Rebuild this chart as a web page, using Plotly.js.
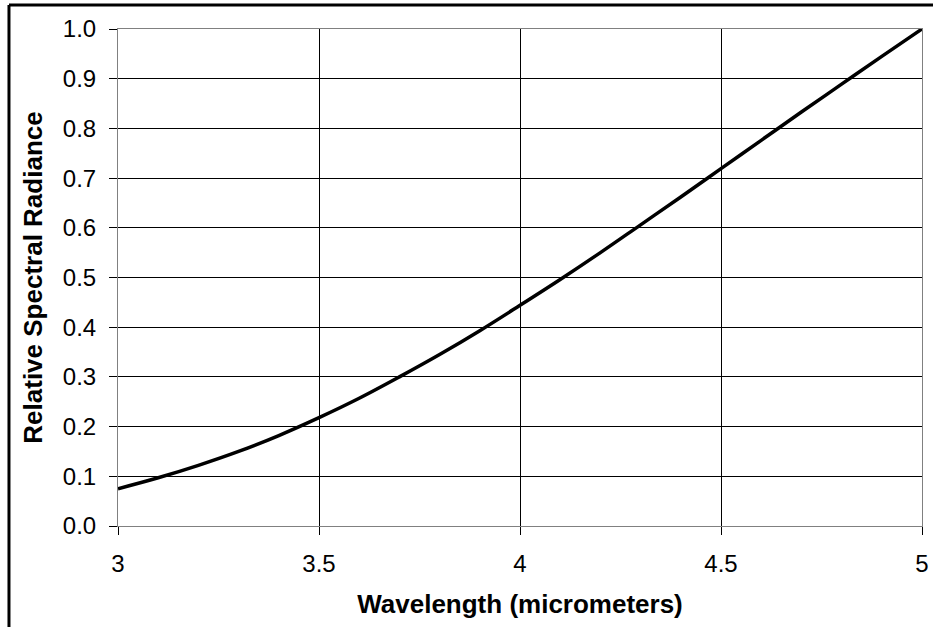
<!DOCTYPE html>
<html>
<head>
<meta charset="utf-8">
<script src="https://cdn.plot.ly/plotly-3.0.1.min.js"></script>
<style>
  html, body { margin: 0; padding: 0; background: white; }
  #chart { width: 933px; height: 627px; }
</style>
</head>
<body>
<div id="chart"></div>
<script>
// wavelength in micrometers, relative spectral radiance
var wavelength = [3.0, 3.1, 3.2, 3.3, 3.4, 3.5, 3.6, 3.7, 3.8, 3.9, 4.0,
                  4.1, 4.2, 4.3, 4.4, 4.5, 4.6, 4.7, 4.8, 4.9, 5.0];
var radiance = [0.075, 0.097, 0.122, 0.150, 0.182, 0.218, 0.257, 0.300, 0.345, 0.393, 0.444,
                0.496, 0.550, 0.606, 0.662, 0.719, 0.776, 0.833, 0.889, 0.945, 1.000];

var xTitle = 'Wavelength (micrometers)';
var yTitle = 'Relative Spectral Radiance';

var fontFamily = 'Arial, "Liberation Sans", sans-serif';

var trace = {
  x: wavelength,
  y: radiance,
  mode: 'lines',
  line: {color: '#000000', width: 3.5, shape: 'spline'},
  hoverinfo: 'skip'
};

var layout = {
  width: 933,
  height: 627,
  margin: {l: 118, r: 11, t: 29, b: 101},
  paper_bgcolor: 'white',
  plot_bgcolor: 'white',
  showlegend: false,
  font: {family: fontFamily, color: '#000000', size: 24},
  xaxis: {
    range: [3, 5],
    dtick: 0.5,
    tick0: 3,
    ticks: 'outside',
    ticklen: 8,
    tickcolor: '#000000',
    ticklabelstandoff: 8,
    showgrid: true,
    gridcolor: '#000000',
    gridwidth: 1,
    showline: true,
    linecolor: '#808080',
    linewidth: 1,
    mirror: true,
    zeroline: false,
    tickfont: {size: 24},
    title: {text: xTitle, font: {size: 26, weight: 'bold'}, standoff: 19}
  },
  yaxis: {
    range: [0, 1],
    dtick: 0.1,
    tick0: 0,
    tickformat: '.1f',
    ticks: 'outside',
    ticklen: 8,
    tickcolor: '#000000',
    ticklabelstandoff: 8,
    showgrid: true,
    gridcolor: '#000000',
    gridwidth: 1,
    showline: true,
    linecolor: '#808080',
    linewidth: 1,
    mirror: true,
    zeroline: false,
    tickfont: {size: 24},
    title: {text: yTitle, font: {size: 26, weight: 'bold'}, standoff: 12}
  },
  // outer chart frame (only the top and left edges fall inside the picture)
  shapes: [
    {type: 'line', xref: 'paper', yref: 'paper', x0: -0.1356, x1: 1.2, y0: 1.0483, y1: 1.0483,
     line: {color: '#000000', width: 3}},
    {type: 'line', xref: 'paper', yref: 'paper', x0: -0.1356, x1: -0.1356, y0: -0.3, y1: 1.0483,
     line: {color: '#000000', width: 3}}
  ]
};

Plotly.newPlot('chart', [trace], layout, {displayModeBar: false, staticPlot: true});
</script>
</body>
</html>
